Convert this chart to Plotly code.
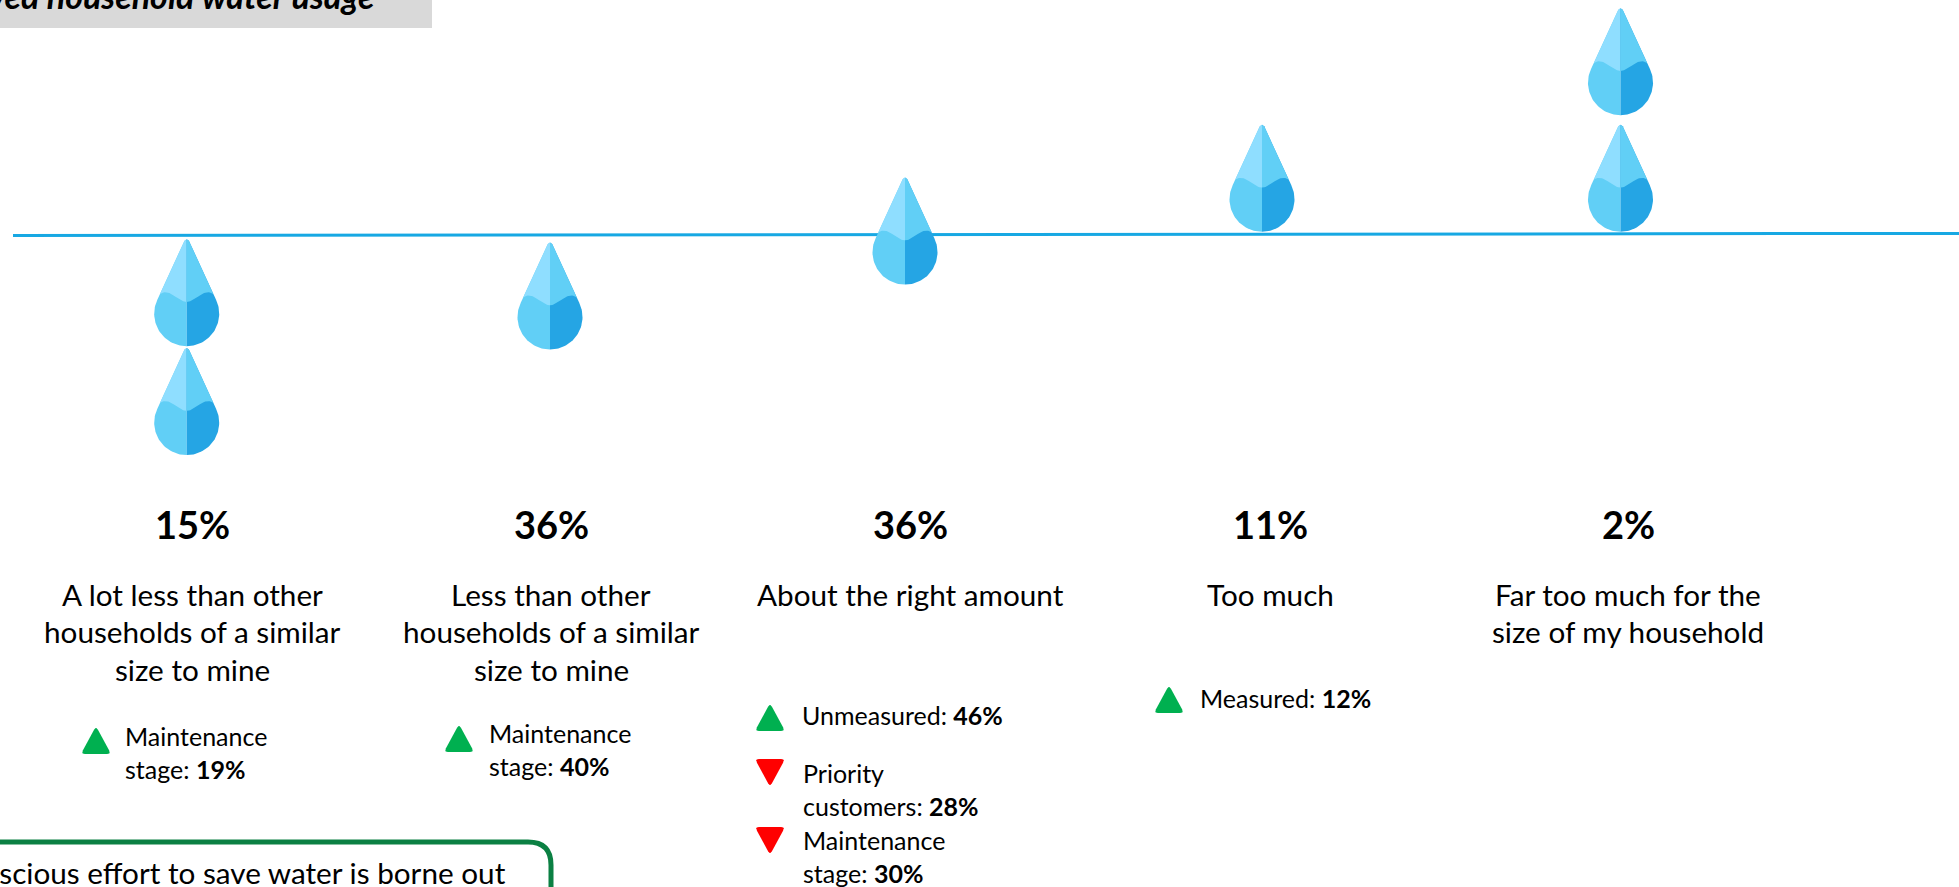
import numpy as np
import plotly.graph_objects as go

# chart values
categories = [
    ["A lot less than other", "households of a similar", "size to mine"],
    ["Less than other", "households of a similar", "size to mine"],
    ["About the right amount"],
    ["Too much"],
    ["Far too much for the", "size of my household"],
]
shares = ["15%", "36%", "36%", "11%", "2%"]
# where each drop's base sits relative to the line, in drop heights
drop_levels = [[-1.02, -2.01], [-1.05], [-0.46], [0.02], [0.02, 1.08]]
# direction, text before the number, number
callouts = [
    [("up", ["Maintenance", "stage: "], "19%")],
    [("up", ["Maintenance", "stage: "], "40%")],
    [("up", ["Unmeasured: "], "46%"),
     ("down", ["Priority", "customers: "], "28%"),
     ("down", ["Maintenance", "stage: "], "30%")],
    [("up", ["Measured: "], "12%")],
    [],
]
title_text = "Perceived household water usage"
note_text = "conscious effort to save water is borne out"

# layout, in page pixels
W, H = 1959, 887
FONT = "Lato"
DROP_X = [186.7, 550, 905, 1262, 1620.5]
TEXT_X = [192, 551, 910, 1270, 1628]
LINE_Y = 234
DROP_H, DROP_R = 107, 32.5
CALLOUT_POS = [
    [(96, 740, 124.5, [736, 769])],
    [(459, 738, 489, [733, 766])],
    [(770, 717, 802, [715]), (770, 773, 802.5, [773, 806]), (770, 841, 802.5, [840, 873])],
    [(1169, 699, 1199.5, [698])],
    [],
]
BLUE_LL, BLUE_MID, BLUE_DARK = "#8FDEFF", "#61CFF6", "#25A5E4"
GREEN, RED = "#00B050", "#FF0000"

fig = go.Figure()


def add_poly(xs, ys, color):
    fig.add_trace(go.Scatter(x=xs, y=ys, mode="lines", fill="toself", fillcolor=color,
                             line=dict(width=0, color=color), hoverinfo="skip", showlegend=False))


def add_drop(cx, bottom):
    # right half of the outline: tip, straight side, then round the circle to the bottom
    cy = bottom - DROP_R
    tip = bottom - DROP_H
    a = np.arcsin(DROP_R / (cy - tip))
    t = np.linspace(-a, np.pi / 2, 40)
    ox = np.r_[0, 2.2, DROP_R * np.cos(t)]
    oy = np.r_[tip, tip + 1.5, cy + DROP_R * np.sin(t)]
    # wave between the pale upper part and the darker lower part: crest near the edge
    wx = np.linspace(0, 1, 24)
    crest = np.sin(np.minimum(wx / 0.8, 1) * np.pi / 2) ** 2
    fall = np.maximum(wx - 0.8, 0) / 0.2
    wy = bottom - DROP_H * 0.414 - DROP_H * 0.09 * crest + DROP_H * 0.015 * fall ** 2
    wave_edge = wy[-1]
    wave_w = np.interp(wave_edge, oy, ox)
    for side, top_col, low_col in ((-1, BLUE_LL, BLUE_MID), (1, BLUE_MID, BLUE_DARK)):
        add_poly(cx + side * ox, oy, low_col)
        add_poly(cx + side * np.r_[0, 2.2, (wx * wave_w)[::-1]], np.r_[tip, tip + 1.5, wy[::-1]], top_col)


def add_triangle(cx, cy, up):
    hw, hh, r = 15, 14, 0.13
    s = 1 if up else -1
    corners = [(cx, cy - s * hh), (cx + hw, cy + s * hh), (cx - hw, cy + s * hh)]
    xs, ys = [], []
    for i, (px, py) in enumerate(corners):
        ax, ay = corners[i - 1]
        bx, by = corners[(i + 1) % 3]
        for u in np.linspace(0, 1, 6):
            sx, sy = px + (ax - px) * r, py + (ay - py) * r
            ex, ey = px + (bx - px) * r, py + (by - py) * r
            xs.append((1 - u) ** 2 * sx + 2 * u * (1 - u) * px + u ** 2 * ex)
            ys.append((1 - u) ** 2 * sy + 2 * u * (1 - u) * py + u ** 2 * ey)
    add_poly(xs, ys, GREEN if up else RED)


def label(x, y, text, size, anchor="center", yanchor="middle", color="#000000"):
    fig.add_annotation(x=x, y=y, text=text, showarrow=False, xanchor=anchor, yanchor=yanchor,
                       xref="x", yref="y", borderpad=0, borderwidth=0,
                       font=dict(family=FONT, size=size, color=color))


# the sloping reference line
fig.add_trace(go.Scatter(x=[13, W], y=[235.6, 233.4], mode="lines", hoverinfo="skip", showlegend=False,
                         line=dict(color="#17A8E3", width=3)))

for i, levels in enumerate(drop_levels):
    for level in levels:
        add_drop(DROP_X[i], LINE_Y - level * 110)

for i, lines in enumerate(categories):
    label(TEXT_X[i], 524, "<b>%s</b>" % shares[i], 38)
    for j, line in enumerate(lines):
        label(TEXT_X[i], 594 + j * 37.5, line, 29.7)
    for (direction, parts, value), (tx, ty, lx, ly) in zip(callouts[i], CALLOUT_POS[i]):
        add_triangle(tx, ty, direction == "up")
        for j, part in enumerate(parts):
            text = part + ("<b>%s</b>" % value if j == len(parts) - 1 else "")
            label(lx, ly[j], text, 25, anchor="left")

# header box, running off the top left of the page
fig.add_shape(type="rect", x0=-5, x1=432, y0=-5, y1=28, xref="x", yref="y",
              fillcolor="#D9D9D9", line_width=0, layer="below")
label(375, 16, "<b><i>%s</i></b>" % title_text, 34, anchor="right", yanchor="bottom")

# note box, cut by the bottom and the left edge
fig.add_shape(type="path", xref="x", yref="y", layer="above",
              path="M -10 842 L 528 842 Q 551 842 551 865 L 551 900",
              line=dict(color="#0B8043", width=5))
label(506, 872, note_text, 29.7, anchor="right")

fig.update_xaxes(range=[0, W], visible=False, fixedrange=True)
fig.update_yaxes(range=[H, 0], visible=False, fixedrange=True)
fig.update_layout(width=W, height=H, margin=dict(l=0, r=0, t=0, b=0), paper_bgcolor="#FFFFFF",
                  plot_bgcolor="#FFFFFF", showlegend=False)
fig.write_html("out.html", config=dict(displayModeBar=False), post_script="document.body.style.margin='0';")
